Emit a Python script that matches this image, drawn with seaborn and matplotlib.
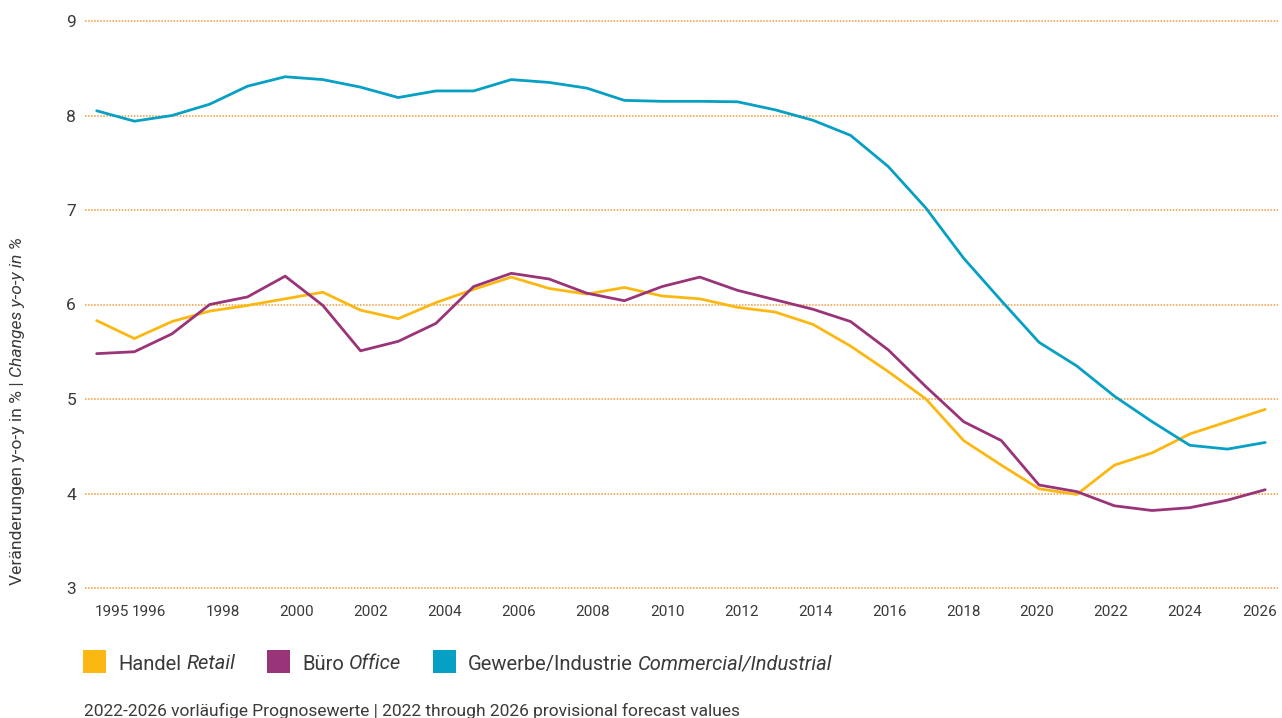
import matplotlib
matplotlib.use("Agg")
import matplotlib.pyplot as plt
import seaborn as sns
import pandas as pd
from matplotlib.patches import Rectangle

# --- data -------------------------------------------------------------
years = list(range(1995, 2027))
handel = [5.83, 5.64, 5.82, 5.93, 5.99, 6.06, 6.13, 5.94, 5.85, 6.02, 6.16,
          6.29, 6.17, 6.11, 6.18, 6.09, 6.06, 5.97, 5.92, 5.79, 5.56, 5.29,
          5.00, 4.56, 4.30, 4.05, 3.99, 4.30, 4.43, 4.63, 4.76, 4.89]
buero = [5.48, 5.50, 5.69, 6.00, 6.08, 6.30, 5.99, 5.51, 5.61, 5.80, 6.19,
         6.33, 6.27, 6.12, 6.04, 6.19, 6.29, 6.15, 6.05, 5.95, 5.82, 5.52,
         5.13, 4.76, 4.56, 4.09, 4.02, 3.87, 3.82, 3.85, 3.93, 4.04]
gewerbe = [8.05, 7.94, 8.00, 8.12, 8.31, 8.41, 8.38, 8.30, 8.19, 8.26, 8.26,
           8.38, 8.35, 8.29, 8.16, 8.15, 8.15, 8.145, 8.06, 7.95, 7.79, 7.46,
           7.02, 6.49, 6.04, 5.60, 5.35, 5.03, 4.76, 4.51, 4.47, 4.54]

segments = ["Handel", "Büro", "Gewerbe/Industrie"]
segments_en = ["Retail", "Office", "Commercial/Industrial"]
tick_years = [1995, 1996] + list(range(1998, 2027, 2))
y_ticks = [3, 4, 5, 6, 7, 8, 9]
footnote = "2022-2026 vorläufige Prognosewerte | 2022 through 2026 provisional forecast values"
ylabel_de = "Veränderungen y-o-y in % |"
ylabel_en = "Changes y-o-y in %"

# --- style ------------------------------------------------------------
colors = {"Handel": "#FBB812", "Büro": "#9A3478", "Gewerbe/Industrie": "#06A0C4"}
grid_color = "#F39A3C"
text_color = "#3A3A3A"

sns.set_theme(style="white")
plt.rcParams["font.family"] = ["Roboto", "DejaVu Sans"]

W, H = 1282, 718
fig = plt.figure(figsize=(W / 100, H / 100), dpi=100)
fig.patch.set_facecolor("white")


def fx(px):
    return px / W


def fy(py):
    return 1 - py / H


ax = fig.add_axes([fx(85), fy(588), fx(1278) - fx(85), fy(21) - fy(588)])

df = pd.DataFrame({"Jahr": years, "Handel": handel, "Büro": buero,
                   "Gewerbe/Industrie": gewerbe})
long = df.melt(id_vars="Jahr", var_name="Segment", value_name="Wert")

sns.lineplot(data=long, x="Jahr", y="Wert", hue="Segment", hue_order=segments,
             palette=colors, linewidth=2.0, legend=False, ax=ax, sort=False)

ax.set_xlim(1994.69, 2026.34)
ax.set_ylim(3, 9)
ax.set_yticks(y_ticks)
ax.set_yticklabels([str(v) for v in y_ticks])
ax.set_xticks([])
ax.grid(axis="y", color=grid_color, linestyle=(0, (1, 1)), linewidth=1.1)
ax.grid(axis="x", visible=False)
for gl in ax.get_ygridlines():
    gl.set_clip_on(False)
ax.set_axisbelow(True)
ax.set_xlabel("")
ax.set_ylabel("")
for s in ax.spines.values():
    s.set_visible(False)
ax.tick_params(axis="y", length=0, pad=6.5, labelsize=12.5, labelcolor=text_color)
for lbl in ax.get_yticklabels():
    lbl.set_verticalalignment("center_baseline")

# year labels on their own bottom scale
ax2 = ax.twiny()
ax2.set_xlim(1994.27, 2026.51)
ax2.xaxis.set_ticks_position("bottom")
ax2.set_xticks(tick_years)
ax2.set_xticklabels([str(y) for y in tick_years])
ax2.tick_params(axis="x", length=0, pad=12.5, labelsize=11, labelcolor=text_color)
for s in ax2.spines.values():
    s.set_visible(False)

fig.canvas.draw()
renderer = fig.canvas.get_renderer()
inv = fig.transFigure.inverted()

# y-axis title: upright German part followed by italic English part
t1 = fig.text(fx(18), fy(585), ylabel_de, rotation=90, ha="center", va="bottom",
              fontsize=12.6, color=text_color)
bb = t1.get_window_extent(renderer)
top = inv.transform((0, bb.y1))[1]
fig.text(fx(18), top + 4 / H, ylabel_en, rotation=90, ha="center", va="bottom",
         fontsize=12.6, style="italic", color=text_color)

# legend
x = 83
for seg, en in zip(segments, segments_en):
    fig.patches.append(Rectangle((fx(x), fy(673)), 23 / W, 23 / H,
                                 transform=fig.transFigure, facecolor=colors[seg],
                                 edgecolor="none"))
    x += 35
    ta = fig.text(fx(x), fy(670), seg, ha="left", va="baseline", fontsize=14.5,
                  color=text_color)
    bb = ta.get_window_extent(renderer)
    x = bb.x1 + 5
    tb = fig.text(fx(x), fy(669.3), en, ha="left", va="baseline", fontsize=14.5,
                  style="italic", color=text_color)
    bb = tb.get_window_extent(renderer)
    x = bb.x1 + 32

fig.text(fx(84), fy(716), footnote, ha="left", va="baseline", fontsize=12.5,
         color=text_color)

fig.savefig("out.png", dpi=100, facecolor="white")
